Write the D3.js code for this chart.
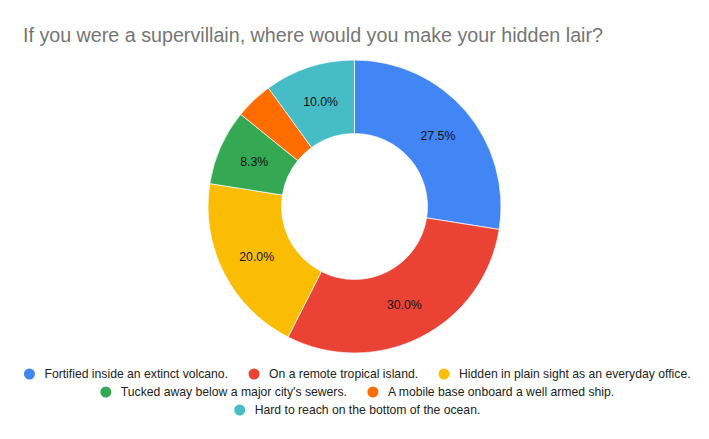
<!DOCTYPE html>
<html>
<head>
<meta charset="utf-8">
<script src="https://cdn.jsdelivr.net/npm/d3@7"></script>
<style>
  html, body { margin: 0; padding: 0; background: #fff; }
  svg { display: block; font-family: Arial, "Liberation Sans", sans-serif; }
</style>
</head>
<body>
<div id="chart"></div>
<script>
// Data
const title = "If you were a supervillain, where would you make your hidden lair?";
const categories = [
  "Fortified inside an extinct volcano.",
  "On a remote tropical island.",
  "Hidden in plain sight as an everyday office.",
  "Tucked away below a major city's sewers.",
  "A mobile base onboard a well armed ship.",
  "Hard to reach on the bottom of the ocean."
];
const counts = [33, 36, 24, 10, 5, 12];
const colors = ["#4285f4", "#ea4335", "#fbbc04", "#34a853", "#ff6d01", "#46bdc6"];

const width = 709, height = 439;
const cx = 354.5, cy = 206.5;
const outerR = 146.5, innerR = 73;

const svg = d3.select("#chart")
  .append("svg")
  .attr("width", width)
  .attr("height", height);

svg.append("text")
  .attr("x", 23)
  .attr("y", 42)
  .attr("fill", "#757575")
  .style("font-size", "19.7px")
  .text(title);

const data = categories.map((c, i) => ({ name: c, value: counts[i], color: colors[i] }));
const total = d3.sum(counts);

const pie = d3.pie().value(d => d.value).sort(null);
const arc = d3.arc().innerRadius(innerR).outerRadius(outerR);

const g = svg.append("g").attr("transform", `translate(${cx},${cy})`);

const arcs = pie(data);

g.selectAll("path")
  .data(arcs)
  .join("path")
  .attr("d", arc)
  .attr("fill", d => d.data.color)
  .attr("stroke", "#fff")
  .attr("stroke-width", 0.7);

// slice labels, small slices get none
g.selectAll("text")
  .data(arcs.filter(d => d.data.value / total >= 0.05))
  .join("text")
  .attr("transform", d => `translate(${arc.centroid(d)})`)
  .attr("text-anchor", "middle")
  .attr("dy", "0.35em")
  .attr("fill", "#111")
  .style("font-size", "12.3px")
  .text(d => (d.data.value / total * 100).toFixed(1) + "%");

// Legend, wrapped into centered rows
const legend = svg.append("g").style("font-size", "12.2px");
const items = legend.selectAll("g")
  .data(data)
  .join("g");
items.append("circle").attr("r", 5.5).attr("cx", 0).attr("cy", 0).attr("fill", d => d.color);
items.append("text").attr("x", 15).attr("dy", "0.35em").attr("fill", "#222").text(d => d.name);

const gap = 26, maxW = 680;
const widths = [];
items.each(function () { widths.push(15 + this.querySelector("text").getComputedTextLength()); });
const rows = [];
let row = [], rowW = 0;
widths.forEach((w, i) => {
  const add = row.length ? gap + w : w;
  if (row.length && rowW + add > maxW) { rows.push({ idx: row, w: rowW }); row = []; rowW = 0; }
  rowW += row.length ? gap + w : w;
  row.push(i);
});
rows.push({ idx: row, w: rowW });
rows.forEach((r, ri) => {
  let x = cx - r.w / 2 + 5.5;
  r.idx.forEach(i => {
    d3.select(items.nodes()[i]).attr("transform", `translate(${x},${374 + ri * 18})`);
    x += widths[i] + gap;
  });
});
</script>
</body>
</html>
